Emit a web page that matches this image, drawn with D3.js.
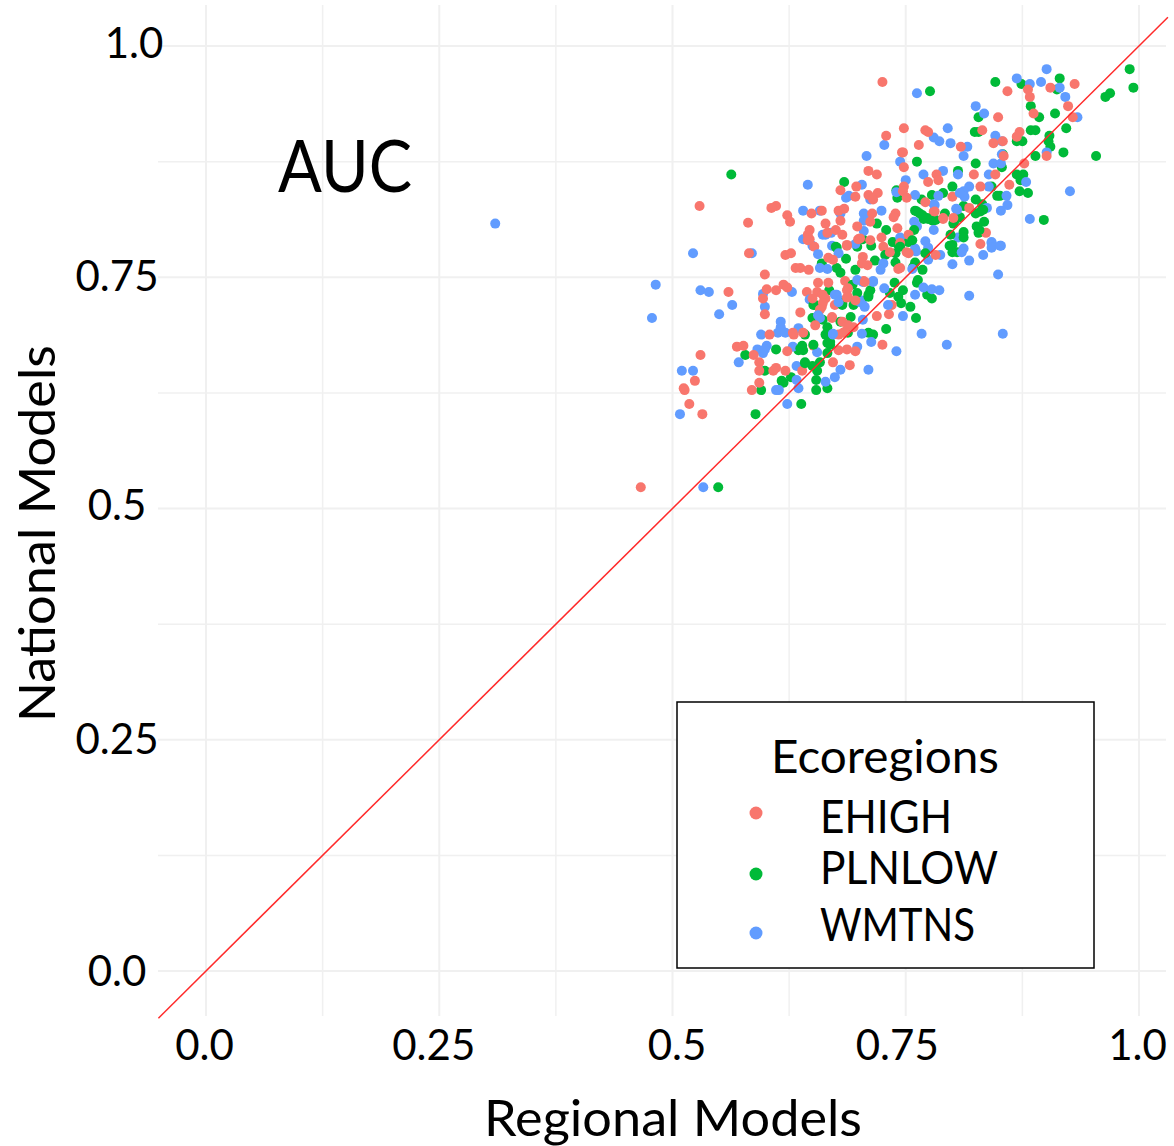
<!DOCTYPE html>
<html>
<head>
<meta charset="utf-8">
<script src="https://cdn.jsdelivr.net/npm/d3@7"></script>
<style>
  html, body { margin: 0; padding: 0; background: #fff; }
  svg { display: block; }
  text { font-family: Lato, "Open Sans", sans-serif; fill: #000; }
</style>
</head>
<body>
<svg id="chart"></svg>
<script>
// values: [regional, national]
const ehigh = [
  [.725,.961],[.729,.903],[.710,.865],[.719,.861],[.529,.827],[.611,.827],[.606,.825],[.623,.817],[.626,.810],[.581,.809],
  [.680,.844],[.697,.848],[.696,.837],[.710,.839],[.720,.841],[.715,.834],[.649,.819],[.660,.822],[.678,.822],[.684,.824],
  [.680,.811],[.664,.808],[.647,.801],[.647,.791],[.652,.783],[.675,.801],[.682,.796],[.698,.805],[.714,.819],[.739,.819],
  [.737,.815],[.741,.803],[.724,.793],[.712,.810],[.699,.791],[.687,.784],[.726,.783],[.746,.885],
  [.931,.959],[.859,.951],[.905,.955],[.881,.953],[.883,.945],[.924,.935],[.887,.927],[.849,.923],[.929,.923],[.748,.911],
  [.771,.909],[.774,.907],[.832,.909],[.872,.907],[.869,.902],[.764,.893],[.809,.891],[.844,.895],[.854,.897],[.747,.885],
  [.748,.869],[.901,.881],[.855,.881],[.877,.873],[.783,.861],[.774,.853],[.785,.855],[.823,.861],[.846,.861],[.830,.848],
  [.861,.850],[.748,.848],[.747,.843],[.751,.836],[.800,.837],[.771,.831],[.818,.825],[.780,.821],[.790,.813],[.836,.798],
  [.830,.786],[.744,.787],
  [.582,.776],[.621,.774],[.627,.776],[.599,.753],[.632,.760],[.637,.760],[.646,.758],[.560,.734],[.601,.737],[.611,.736],
  [.619,.742],[.623,.739],[.597,.727],[.599,.710],[.644,.734],[.656,.744],[.655,.734],[.664,.727],[.660,.718],[.674,.720],
  [.637,.712],[.671,.706],[.604,.688],[.630,.688],[.640,.690],[.569,.675],[.576,.676],[.530,.666],[.587,.666],[.593,.658],
  [.593,.649],[.623,.670],[.651,.676],[.611,.652],[.608,.649],[.621,.649],[.639,.649],[.672,.658],[.524,.638],[.512,.630],
  [.513,.628],[.593,.636],[.585,.628],[.518,.613],[.532,.602],[.645,.796],[.645,.790],[.667,.771],[.672,.769],
  [.666,.798],[.701,.792],[.712,.790],[.753,.796],[.687,.785],[.733,.777],[.753,.776],[.704,.772],[.703,.765],[.709,.763],
  [.782,.774],[.790,.814],[.742,.759],[.685,.746],[.688,.738],[.688,.729],[.705,.746],[.667,.744],[.661,.731],[.661,.722],
  [.735,.720],[.732,.710],[.719,.708],[.671,.707],[.694,.696],[.685,.691],[.678,.688],[.725,.677],[.687,.672],[.696,.670],
  [.466,.523],[.653,.698],[.658,.715],[.650,.727],[.682,.702],[.696,.725],[.678,.671],[.690,.655],
  [.687,.736],[.687,.728],[.688,.698],[.683,.690],[.706,.745],[.629,.690],[.801,.814],[.744,.760],[.751,.777],[.781,.821]
];
const plnlow = [
  [.563,.861],[.684,.853],[.740,.844],[.741,.836],[.719,.808],[.729,.801],[.704,.791],[.676,.782],[.713,.784],[.698,.783],
  [.736,.788],[.742,.785],
  [.990,.975],[.915,.965],[.874,.959],[.846,.961],[.994,.955],[.969,.949],[.964,.945],[.776,.951],[.912,.953],[.884,.935],
  [.910,.927],[.893,.923],[.828,.923],[.922,.911],[.884,.909],[.889,.909],[.824,.907],[.828,.907],[.904,.903],[.903,.897],
  [.869,.897],[.875,.897],[.905,.891],[.919,.885],[.889,.881],[.954,.881],[.854,.883],[.762,.875],[.825,.873],[.853,.869],
  [.806,.865],[.869,.861],[.876,.861],[.873,.855],[.800,.848],[.872,.843],[.881,.841],[.842,.848],[.778,.839],[.790,.841],
  [.848,.838],[.851,.838],[.767,.834],[.825,.834],[.832,.829],[.812,.827],[.825,.819],[.760,.822],[.765,.819],[.792,.819],
  [.898,.812],[.769,.813],[.774,.813],[.779,.811],[.808,.815],[.801,.808],[.834,.810],[.826,.805],[.759,.801],[.812,.799],
  [.828,.798],[.812,.793],[.753,.788],[.797,.784],
  [.578,.666],[.611,.672],[.599,.649],[.617,.638],[.619,.636],[.627,.642],[.595,.628],[.589,.602],[.638,.613],[.642,.688],
  [.635,.671],[.639,.676],[.640,.671],[.642,.658],[.650,.654],[.658,.658],[.655,.649],[.654,.639],[.654,.628],[.666,.630],
  [.668,.736],[.653,.720],[.650,.706],[.661,.704],[.666,.696],[.664,.688],[.669,.680],[.666,.668],[.660,.765],[.676,.760],
  [.762,.821],[.773,.814],[.782,.812],[.803,.812],[.833,.823],[.829,.801],[.798,.796],[.800,.785],[.800,.777],[.805,.777],
  [.744,.783],[.675,.783],[.686,.770],[.717,.768],[.739,.776],[.739,.766],[.728,.774],[.771,.776],[.760,.766],[.758,.761],
  [.768,.758],[.680,.755],[.696,.758],[.738,.744],[.763,.747],[.762,.744],[.747,.736],[.742,.729],[.733,.733],[.755,.718],
  [.745,.722],[.761,.706],[.773,.731],[.778,.727],[.712,.736],[.710,.731],[.693,.742],[.698,.733],[.682,.720],[.691,.707],
  [.680,.702],[.666,.679],[.729,.694],[.710,.690],[.715,.688],[.688,.690],[.549,.523],
  [.651,.720],[.682,.722],[.694,.720],[.710,.729],[.651,.677],[.637,.673],[.642,.657],[.669,.677],[.757,.790],[.768,.817],[.830,.821]
];
const wmtns = [
  [.727,.893],[.708,.881],[.744,.875],[.645,.850],[.703,.850],[.740,.842],[.686,.836],[.689,.838],[.712,.834],[.640,.822],
  [.658,.822],[.680,.819],[.705,.819],[.724,.822],[.705,.811],[.710,.813],[.664,.796],[.670,.798],[.705,.800],[.640,.791],
  [.650,.784],[.671,.784],[.696,.786],[.744,.793],
  [.901,.975],[.869,.965],[.895,.961],[.883,.959],[.915,.955],[.762,.949],[.921,.945],[.825,.935],[.834,.927],[.934,.923],
  [.795,.911],[.780,.901],[.786,.897],[.798,.895],[.846,.903],[.853,.897],[.816,.891],[.812,.881],[.901,.885],[.853,.883],
  [.844,.873],[.852,.873],[.790,.865],[.769,.861],[.806,.861],[.839,.861],[.750,.855],[.879,.853],[.818,.848],[.812,.843],
  [.839,.848],[.785,.838],[.760,.839],[.858,.838],[.813,.837],[.926,.843],[.780,.829],[.859,.828],[.837,.825],[.852,.822],
  [.804,.824],[.883,.813],[.759,.810],[.762,.805],[.780,.801],[.771,.789],[.806,.793],[.842,.787],[.852,.784],[.774,.782],
  [.760,.781],[.812,.781],
  [.522,.776],[.585,.776],[.482,.742],[.530,.736],[.539,.734],[.564,.720],[.550,.710],[.478,.706],[.628,.734],[.597,.732],
  [.599,.718],[.616,.702],[.616,.696],[.613,.690],[.621,.690],[.595,.688],[.601,.676],[.591,.672],[.597,.668],[.599,.672],
  [.571,.658],[.510,.649],[.522,.649],[.508,.602],[.623,.613],[.611,.628],[.614,.628],[.635,.695],[.629,.675],[.633,.654],
  [.633,.639],[.635,.630],[.647,.726],[.656,.775],[.658,.760],[.666,.759],[.655,.669],[.658,.706],[.674,.731],[.672,.688],
  [.674,.642],[.664,.637],
  [.661,.796],[.678,.776],[.761,.778],[.774,.769],[.726,.765],[.723,.758],[.787,.774],[.810,.777],[.800,.764],[.818,.768],
  [.833,.774],[.842,.788],[.842,.782],[.851,.784],[.849,.753],[.757,.759],[.715,.746],[.704,.745],[.727,.738],[.676,.731],
  [.680,.725],[.703,.725],[.760,.731],[.769,.739],[.778,.737],[.786,.736],[.818,.730],[.854,.689],[.767,.689],[.794,.677],
  [.747,.708],[.704,.704],[.731,.720],[.703,.689],[.713,.680],[.698,.675],[.740,.670],[.672,.689],[.680,.650],[.710,.650],
  [.310,.808],[.533,.523],
  [.678,.723],[.701,.723],[.706,.718],[.698,.747],[.715,.745],[.656,.709],[.808,.841],[.781,.828],[.805,.823]
];
const ecoregions = ["EHIGH", "PLNLOW", "WMTNS"];
const ecoColors = ["#F8766D", "#00BA38", "#619CFF"];
const majorTicks = [0, 0.25, 0.5, 0.75, 1];
const minorTicks = [0.125, 0.375, 0.625, 0.875];
const tickLabels = ["0.0", "0.25", "0.5", "0.75", "1.0"];
const refLine = [-0.051, 1.031];

const width = 1174;
const height = 1146;
const plotLeft = 158, plotRight = 1166, plotTop = 5, plotBottom = 1016;

const x = d3.scaleLinear().domain([0, 1]).range([206, 1139]);
const y = d3.scaleLinear().domain([0, 1]).range([971, 46]);

const svg = d3.select("#chart")
    .attr("width", width)
    .attr("height", height);

// grid
const grid = svg.append("g").attr("stroke", "#f0f0f0");
grid.selectAll(".vmin").data(minorTicks).join("line")
    .attr("class", "vmin")
    .attr("x1", d => x(d)).attr("x2", d => x(d))
    .attr("y1", plotTop).attr("y2", plotBottom).attr("stroke-width", 1.5);
grid.selectAll(".hmin").data(minorTicks).join("line")
    .attr("class", "hmin")
    .attr("y1", d => y(d)).attr("y2", d => y(d))
    .attr("x1", plotLeft).attr("x2", plotRight).attr("stroke-width", 1.5);
grid.selectAll(".vmaj").data(majorTicks).join("line")
    .attr("class", "vmaj")
    .attr("x1", d => x(d)).attr("x2", d => x(d))
    .attr("y1", plotTop).attr("y2", plotBottom).attr("stroke-width", 2);
grid.selectAll(".hmaj").data(majorTicks).join("line")
    .attr("class", "hmaj")
    .attr("y1", d => y(d)).attr("y2", d => y(d))
    .attr("x1", plotLeft).attr("x2", plotRight).attr("stroke-width", 2);

// axes, labels were nudged by hand in the original
const xNudge = [-2, -6, 4, -9, -2];
const yNudge = [0, 0, 0, 0, 17];
const yLift = [0, 0, -3, -1, -3];

svg.append("g")
    .attr("transform", `translate(0,${plotBottom})`)
    .call(d3.axisBottom(x).tickValues(majorTicks).tickSize(0).tickFormat((d, i) => tickLabels[i]))
    .call(g => g.select(".domain").remove())
    .call(g => g.selectAll("text")
        .attr("font-size", 42)
        .attr("fill", "#000")
        .style("font-family", "Lato, sans-serif")
        .attr("dx", (d, i) => xNudge[i])
        .attr("y", 14));

svg.append("g")
    .attr("transform", "translate(117,0)")
    .call(d3.axisLeft(y).tickValues(majorTicks).tickSize(0).tickFormat((d, i) => tickLabels[i]))
    .call(g => g.select(".domain").remove())
    .call(g => g.selectAll("text")
        .attr("font-size", 42)
        .attr("fill", "#000")
        .style("font-family", "Lato, sans-serif")
        .attr("text-anchor", "middle")
        .attr("x", (d, i) => yNudge[i])
        .attr("dy", (d, i) => 14 + yLift[i]));

svg.append("text")
    .attr("x", 484).attr("y", 1136)
    .attr("font-size", 50)
    .attr("textLength", 378)
    .attr("lengthAdjust", "spacingAndGlyphs")
    .text("Regional Models");

svg.append("text")
    .attr("transform", "translate(55,722) rotate(-90)")
    .attr("font-size", 50)
    .attr("textLength", 377)
    .attr("lengthAdjust", "spacingAndGlyphs")
    .text("National Models");

svg.append("text")
    .attr("x", 278).attr("y", 192)
    .attr("font-size", 72)
    .attr("textLength", 134)
    .attr("lengthAdjust", "spacingAndGlyphs")
    .text("AUC");

// points, drawn row by row so the colours overlap each other like the original
const series = [ehigh, plnlow, wmtns];
const rows = d3.merge(series.map((pts, s) => pts.map((d, i) => ({ d, s, i }))))
    .sort((a, b) => d3.ascending(a.i, b.i) || d3.ascending(a.s, b.s));
svg.append("g")
    .selectAll("circle").data(rows).join("circle")
    .attr("cx", r => x(r.d[0]))
    .attr("cy", r => y(r.d[1]))
    .attr("r", 5)
    .attr("fill", r => ecoColors[r.s]);

// identity line
const line = d3.line().x(d => x(d)).y(d => y(d));
svg.append("path")
    .datum(refLine)
    .attr("fill", "none")
    .attr("stroke", "#ff2a2a")
    .attr("stroke-width", 1.5)
    .attr("d", line);

// legend
const legend = svg.append("g");
legend.append("rect")
    .attr("x", 677).attr("y", 702)
    .attr("width", 417).attr("height", 266)
    .attr("fill", "#fff").attr("stroke", "#000").attr("stroke-width", 1.5);
legend.append("text")
    .attr("x", 771).attr("y", 773)
    .attr("font-size", 46)
    .attr("textLength", 228)
    .attr("lengthAdjust", "spacingAndGlyphs")
    .text("Ecoregions");

const legendDotY = [813, 874, 933];
const legendTextY = [833, 884, 941];
const legendTextLen = [132, 178, 155];
legend.selectAll("circle").data(ecoregions).join("circle")
    .attr("cx", 756)
    .attr("cy", (d, i) => legendDotY[i])
    .attr("r", 6.5)
    .attr("fill", (d, i) => ecoColors[i]);
legend.selectAll(".lab").data(ecoregions).join("text")
    .attr("class", "lab")
    .attr("x", 820)
    .attr("y", (d, i) => legendTextY[i])
    .attr("font-size", 46)
    .attr("textLength", (d, i) => legendTextLen[i])
    .attr("lengthAdjust", "spacingAndGlyphs")
    .text(d => d);
</script>
</body>
</html>
